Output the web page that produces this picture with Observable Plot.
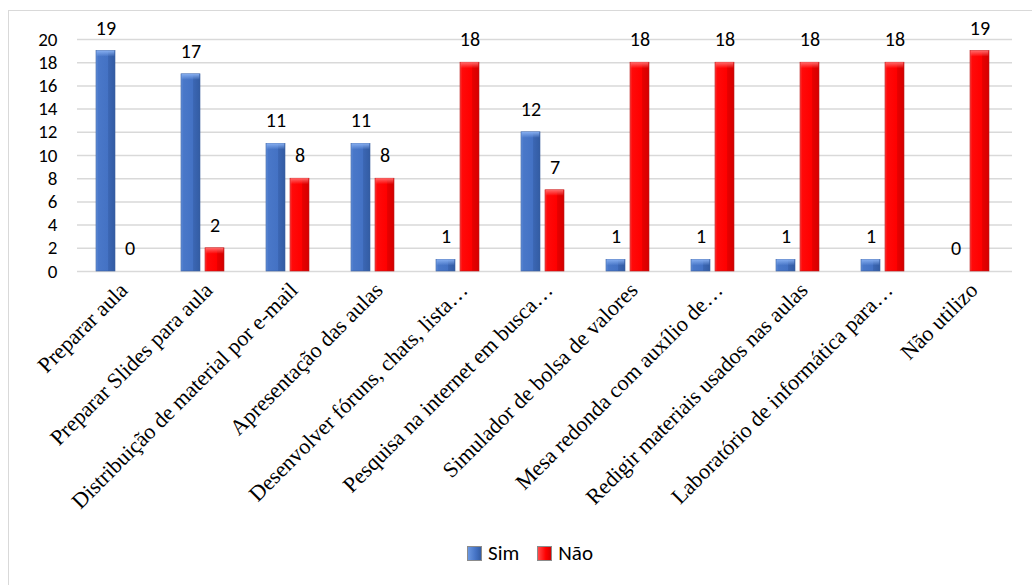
<!DOCTYPE html>
<html>
<head>
<meta charset="utf-8">
<script src="https://cdn.jsdelivr.net/npm/d3@7"></script>
<script src="https://cdn.jsdelivr.net/npm/@observablehq/plot@0.6"></script>
<style>
  html, body { margin: 0; padding: 0; background: #fff; overflow: hidden; }
  #frame { position: absolute; left: 8px; top: 10px; width: 1100px; height: 640px; border: 1.5px solid #d9d9d9; box-sizing: border-box; }
  #chart { position: absolute; left: 0; top: 0; }
  #legend { position: absolute; left: 8px; width: 1044px; top: 540px; display: flex; justify-content: center; align-items: center; gap: 18px; font-family: Carlito, Lato, sans-serif; font-size: 21px; color: #000; }
  .item { display: flex; align-items: center; gap: 6px; }
  .sw { width: 15px; height: 15px; display: inline-block; box-sizing: border-box; border: 1px solid #8c8c8c; }
</style>
</head>
<body>
<div id="frame"></div>
<div id="chart"></div>
<div id="legend"></div>
<script>
const categories = [
  "Preparar aula",
  "Preparar Slides para aula",
  "Distribuição de material por e-mail",
  "Apresentação das aulas",
  "Desenvolver fóruns, chats, lista…",
  "Pesquisa na internet em busca…",
  "Simulador de bolsa de valores",
  "Mesa redonda com auxílio de…",
  "Redigir materiais usados nas aulas",
  "Laboratório de informática para…",
  "Não utilizo"
];
const seriesNames = ["Sim", "Não"];
const simValues = [19, 17, 11, 11, 1, 12, 1, 1, 1, 1, 0];
const naoValues = [0, 2, 8, 8, 18, 7, 18, 18, 18, 18, 19];
const yTicks = [0, 2, 4, 6, 8, 10, 12, 14, 16, 18, 20];

const simRows = categories.map((c, i) => ({cat: c, serie: "Sim", value: simValues[i]}));
const naoRows = categories.map((c, i) => ({cat: c, serie: "Não", value: naoValues[i]}));
const rows = simRows.concat(naoRows);

const W = 1032, H = 535;
const numFont = "Carlito, Lato, sans-serif";
const plot = Plot.plot({
  width: W,
  height: H,
  marginLeft: 73,
  marginRight: 16,
  marginTop: 39,
  marginBottom: H - 271,
  style: {background: "transparent", overflow: "visible"},
  fx: {domain: categories, padding: 0, label: null},
  x: {domain: seriesNames, paddingInner: 0.2, paddingOuter: 0.85, align: 0.46, axis: null},
  y: {domain: [0, 20], axis: null},
  marks: [
    Plot.gridY(yTicks, {stroke: "#d9d9d9", strokeOpacity: 1, strokeWidth: 1.5}),
    Plot.barY(simRows.filter(d => d.value > 0), {fx: "cat", x: "serie", y: "value", fill: "url(#gSim)", stroke: "#3a5f9e", strokeWidth: 0.6}),
    Plot.barY(naoRows.filter(d => d.value > 0), {fx: "cat", x: "serie", y: "value", fill: "url(#gNao)", stroke: "#b81818", strokeWidth: 0.6}),
    Plot.barY(simRows.filter(d => d.value > 0), {fx: "cat", x: "serie", y1: "value", y2: "value", insetBottom: -6, insetLeft: 0.6, insetRight: 0.6, fill: "url(#cSim)"}),
    Plot.barY(naoRows.filter(d => d.value > 0), {fx: "cat", x: "serie", y1: "value", y2: "value", insetBottom: -6, insetLeft: 0.6, insetRight: 0.6, fill: "url(#cNao)"}),
    Plot.text(rows, {fx: "cat", x: "serie", y: "value", text: d => String(d.value), dy: -23, fontSize: 20, fontFamily: numFont, fill: "#000"}),
    Plot.axisY(yTicks, {tickSize: 0, tickPadding: 20, fontSize: 19, fontFamily: numFont, label: null, fill: "#000"}),
    Plot.axisFx({anchor: "bottom", tickRotate: -45, tickSize: 0, tickPadding: 15, dx: 4, fontSize: 22, fontFamily: "Liberation Serif", label: null, fill: "#000"})
  ]
});

const ns = "http://www.w3.org/2000/svg";
const defs = document.createElementNS(ns, "defs");
defs.innerHTML = `
  <linearGradient id="gSim" x1="0" x2="1" y1="0" y2="0">
    <stop offset="0" stop-color="#6b98e2"/>
    <stop offset="0.1" stop-color="#4a78c9"/>
    <stop offset="0.62" stop-color="#4472c4"/>
    <stop offset="0.66" stop-color="#3b66b3"/>
    <stop offset="1" stop-color="#335ca3"/>
  </linearGradient>
  <linearGradient id="gNao" x1="0" x2="1" y1="0" y2="0">
    <stop offset="0" stop-color="#ff4a4a"/>
    <stop offset="0.1" stop-color="#ff0a0a"/>
    <stop offset="0.62" stop-color="#ff0000"/>
    <stop offset="0.66" stop-color="#e80000"/>
    <stop offset="1" stop-color="#d40000"/>
  </linearGradient>
  <linearGradient id="cSim" x1="0" x2="0" y1="0" y2="1">
    <stop offset="0" stop-color="#86aef0" stop-opacity="1"/>
    <stop offset="1" stop-color="#86aef0" stop-opacity="0"/>
  </linearGradient>
  <linearGradient id="cNao" x1="0" x2="0" y1="0" y2="1">
    <stop offset="0" stop-color="#ff6a6a" stop-opacity="1"/>
    <stop offset="1" stop-color="#ff6a6a" stop-opacity="0"/>
  </linearGradient>`;
plot.insertBefore(defs, plot.firstChild);
document.getElementById("chart").appendChild(plot);

const legend = document.getElementById("legend");
[["Sim", "linear-gradient(90deg,#6b98e2,#4472c4 60%,#335ca3)"], ["Não", "linear-gradient(90deg,#ff4a4a,#ff0000 60%,#d40000)"]].forEach(([name, bg]) => {
  const it = document.createElement("div");
  it.className = "item";
  const sw = document.createElement("span");
  sw.className = "sw";
  sw.style.background = bg;
  const t = document.createElement("span");
  t.textContent = name;
  it.appendChild(sw); it.appendChild(t);
  legend.appendChild(it);
});
</script>
</body>
</html>
